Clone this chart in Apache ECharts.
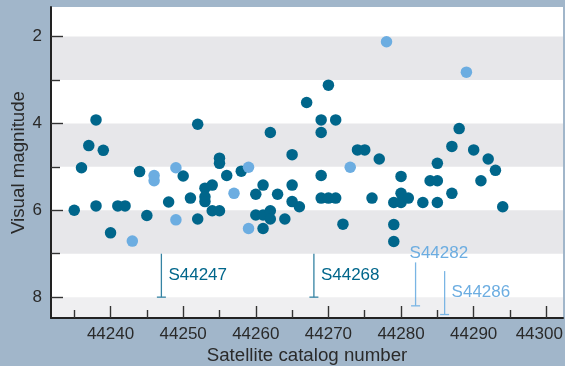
<!DOCTYPE html>
<html>
<head>
<meta charset="utf-8">
<script src="https://cdn.jsdelivr.net/npm/echarts@6/dist/echarts.min.js"></script>
<style>
  html, body { margin: 0; padding: 0; background: #a1b6ca; }
  #chart { width: 565px; height: 366px; }
</style>
</head>
<body>
<div id="chart"></div>
<script>
// Teal objects: catalog number and visual magnitude
const tealCatalog = [44235, 44236, 44237, 44238, 44238, 44239, 44240, 44241, 44242, 44244,
  44245, 44248, 44250, 44251, 44252, 44252, 44253, 44253, 44253, 44254,
  44254, 44255, 44255, 44255, 44256, 44258, 44260, 44260, 44261, 44261,
  44261, 44262, 44262, 44262, 44263, 44264, 44265, 44265, 44265, 44266,
  44267, 44269, 44269, 44269, 44269, 44270, 44270, 44271, 44271, 44272,
  44274, 44275, 44276, 44277, 44279, 44279, 44279, 44280, 44280, 44280,
  44281, 44283, 44284, 44285, 44285, 44285, 44287, 44287, 44288, 44290,
  44291, 44292, 44293, 44294];
const tealMag = [6.0, 5.02, 4.51, 3.92, 5.9, 4.62, 6.52, 5.9, 5.9, 5.11,
  6.12, 5.81, 5.21, 5.72, 4.02, 6.2, 5.49, 5.69, 5.8, 5.42,
  6.01, 4.8, 4.92, 6.01, 5.2, 5.1, 5.63, 6.11, 5.42, 6.11,
  6.42, 4.21, 6.01, 6.2, 5.63, 6.2, 4.72, 5.42, 5.8, 5.92,
  3.52, 3.92, 4.21, 5.2, 5.72, 3.12, 5.72, 3.92, 5.72, 6.32,
  4.61, 4.61, 5.72, 4.82, 5.82, 6.33, 6.72, 5.22, 5.61, 5.82,
  5.72, 5.82, 5.32, 4.92, 5.32, 5.82, 4.53, 5.61, 4.12, 4.61,
  5.32, 4.82, 5.08, 5.92];

// Sky-blue objects
const skyCatalog = [44243, 44246, 44246, 44249, 44249, 44257, 44259, 44259, 44273, 44278, 44289];
const skyMag = [6.71, 5.2, 5.32, 5.02, 6.22, 5.61, 5.01, 6.42, 5.01, 2.12, 2.82];

// Objects fainter than the plotted points
const noteLabels = ['S44247', 'S44268', 'S44282', 'S44286'];
const noteCatalog = [44247, 44268, 44282, 44286];
const noteTopMag = [7.0, 7.0, 7.2, 7.4];
const noteBottomMag = [8.0, 8.0, 8.2, 8.4];
const noteTone = ['teal', 'teal', 'sky', 'sky'];

// Axis ticks
const xMajorTicks = [44240, 44250, 44260, 44270, 44280, 44290, 44300];
const xMinorTicks = [44235, 44245, 44255, 44265, 44275, 44285, 44295];
const yMajorTicks = [2, 4, 6, 8];
const yMinorTicks = [3, 5, 7];

// Shaded magnitude bands
const grayBands = [[2, 3], [4, 5], [6, 7]];
const paleBands = [[8, 8.48]];

const X_MIN = 44231.8, X_MAX = 44302.3;
const Y_MIN = 1.32, Y_MAX = 8.48;

const TEAL = '#00668b';
const SKY = '#6cade1';
const TEXT = '#2a2a2a';
const FONT = 'Liberation Sans, Arial, sans-serif';

const chart = echarts.init(document.getElementById('chart'), null, { renderer: 'canvas' });

const axisLineStyle = { color: '#222', width: 2 };
const tickStyle = { color: '#333', width: 1.4 };

function pairs(xs, ys) { return xs.map((x, i) => [x, ys[i]]); }

const lastX = xMajorTicks[xMajorTicks.length - 1];

const option = {
  animation: false,
  backgroundColor: '#a1b6ca',
  grid: { left: 51, right: 2, top: 7, bottom: 48, show: true, backgroundColor: '#ffffff', borderWidth: 0,
    outerBoundsMode: 'none', containLabel: false },
  xAxis: [
    {
      type: 'value', min: X_MIN, max: X_MAX, position: 'bottom', z: 5,
      axisLine: { show: true, lineStyle: axisLineStyle },
      axisTick: { show: true, inside: true, length: 12, customValues: xMajorTicks, lineStyle: tickStyle },
      axisLabel: {
        customValues: xMajorTicks, margin: 8, color: TEXT, fontSize: 17, fontFamily: FONT,
        // the last label is nudged left so it stays inside the canvas
        formatter: v => (v === lastX ? '{edge|' + v + '}' : String(v)),
        rich: { edge: { color: TEXT, fontSize: 17, fontFamily: FONT, padding: [0, 14, 0, 0] } }
      },
      splitLine: { show: false },
      name: 'Satellite catalog number', nameLocation: 'middle', nameGap: 28, nameMoveOverlap: false,
      nameTextStyle: { color: TEXT, fontSize: 18.7, fontFamily: FONT }
    },
    {
      type: 'value', min: X_MIN, max: X_MAX, position: 'bottom', z: 5,
      axisLine: { show: false },
      axisTick: { show: true, inside: true, length: 8, customValues: xMinorTicks, lineStyle: tickStyle },
      axisLabel: { show: false },
      splitLine: { show: false }
    }
  ],
  yAxis: [
    {
      type: 'value', inverse: true, min: Y_MIN, max: Y_MAX, position: 'left', z: 5,
      axisLine: { show: true, lineStyle: axisLineStyle },
      axisTick: { show: true, inside: true, length: 12, customValues: yMajorTicks, lineStyle: tickStyle },
      axisLabel: { customValues: yMajorTicks, margin: 9, color: TEXT, fontSize: 17, fontFamily: FONT },
      splitLine: { show: false },
      name: 'Visual magnitude', nameLocation: 'middle', nameGap: 23, nameMoveOverlap: false,
      nameTextStyle: { color: TEXT, fontSize: 18.7, fontFamily: FONT }
    },
    {
      type: 'value', inverse: true, min: Y_MIN, max: Y_MAX, position: 'left', z: 5,
      axisLine: { show: false },
      axisTick: { show: true, inside: true, length: 9, customValues: yMinorTicks, lineStyle: tickStyle },
      axisLabel: { show: false },
      splitLine: { show: false }
    }
  ],
  series: [
    {
      // background bands
      type: 'scatter', data: [], z: 1, silent: true,
      markArea: {
        silent: true,
        data: grayBands.map(b => [{ yAxis: b[0], itemStyle: { color: '#e7e7ea' } }, { yAxis: b[1] }])
          .concat(paleBands.map(b => [{ yAxis: b[0], itemStyle: { color: '#efeff1' } }, { yAxis: b[1] }]))
      }
    },
    {
      name: 'teal', type: 'scatter', z: 6, symbol: 'circle', symbolSize: 11.5,
      itemStyle: { color: TEAL, opacity: 1 },
      emphasis: { disabled: true },
      data: pairs(tealCatalog, tealMag)
    },
    {
      name: 'sky', type: 'scatter', z: 6, symbol: 'circle', symbolSize: 11.5,
      itemStyle: { color: SKY, opacity: 1 },
      emphasis: { disabled: true },
      data: pairs(skyCatalog, skyMag)
    },
    {
      name: 'notes', type: 'custom', z: 7, silent: true,
      data: noteCatalog.map((c, i) => [c, noteTopMag[i], noteBottomMag[i]]),
      renderItem: function (params, api) {
        const i = params.dataIndex;
        const p1 = api.coord([api.value(0), api.value(1)]);
        const p2 = api.coord([api.value(0), api.value(2)]);
        const teal = noteTone[i] === 'teal';
        const lineColor = teal ? '#3583a3' : '#7ab5e4';
        const textColor = teal ? TEAL : SKY;
        const above = noteLabels[i] === 'S44282';
        const text = above
          ? { type: 'text', style: { x: p1[0] - 6, y: p1[1] - 1, text: noteLabels[i], fill: textColor,
              font: '17px ' + FONT, align: 'left', verticalAlign: 'bottom' } }
          : { type: 'text', style: { x: p1[0] + 7, y: (p1[1] + p2[1]) / 2, text: noteLabels[i], fill: textColor,
              font: '17px ' + FONT, align: 'left', verticalAlign: 'middle' } };
        return {
          type: 'group',
          children: [
            { type: 'line', shape: { x1: p1[0], y1: p1[1], x2: p2[0], y2: p2[1] },
              style: { stroke: lineColor, lineWidth: 1.3 } },
            { type: 'line', shape: { x1: p2[0] - 4.5, y1: p2[1], x2: p2[0] + 4.5, y2: p2[1] },
              style: { stroke: lineColor, lineWidth: 1.3 } },
            text
          ]
        };
      }
    }
  ]
};

chart.setOption(option);
</script>
</body>
</html>
